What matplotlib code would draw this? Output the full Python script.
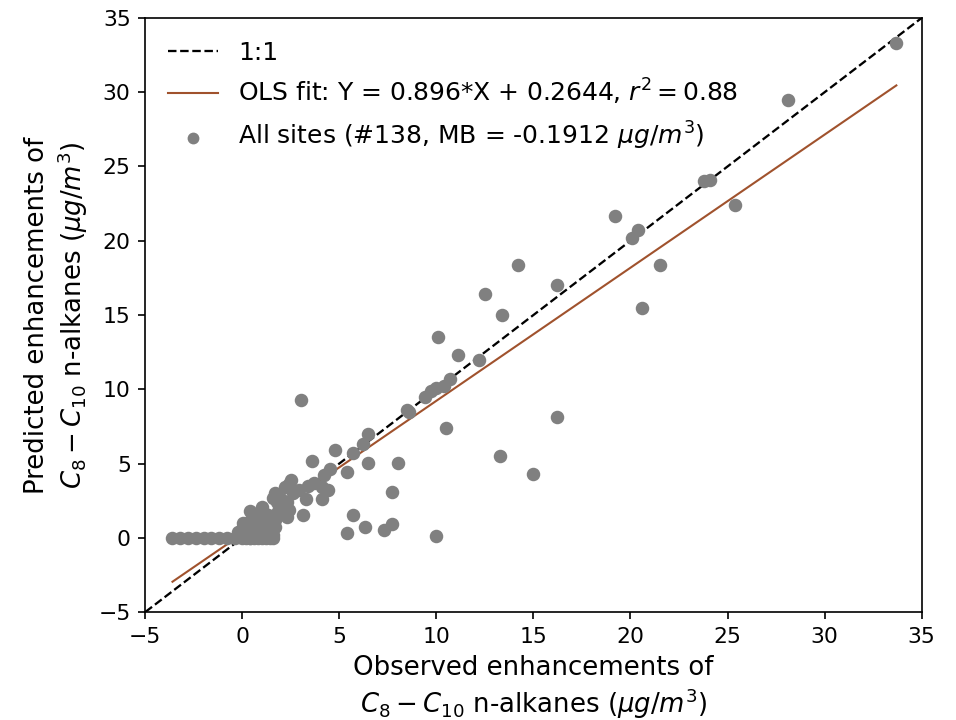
import numpy as np
import matplotlib
matplotlib.use("Agg")
import matplotlib.pyplot as plt


# observed (x) vs predicted (y) C8-C10 n-alkane enhancements, ug/m3
obs_high = [33.7, 28.1, 25.4, 23.8, 24.1, 19.2, 20.1, 20.4, 21.5, 20.6,
            16.2, 16.2, 15.0, 14.2, 12.5, 13.4, 13.3, 11.1, 12.2, 10.1,
            10.5, 10.0, 10.7, 8.5, 9.4, 9.7, 10.0, 10.4, 8.6, 8.0]
pred_high = [33.3, 29.5, 22.4, 24.0, 24.1, 21.7, 20.2, 20.7, 18.4, 15.5,
             17.0, 8.1, 4.3, 18.4, 16.4, 15.0, 5.5, 12.3, 12.0, 13.5,
             7.4, 0.1, 10.7, 8.6, 9.5, 9.9, 10.1, 10.2, 8.5, 5.05]

obs_mid = [3.0, 6.5, 6.2, 4.8, 5.7, 6.5, 3.6, 4.5, 5.4, 4.2,
           3.7, 3.4, 4.1, 4.4, 7.7, 3.3, 4.1, 3.1, 5.7, 6.3,
           5.4, 7.3, 7.7, 2.5, 2.4, 2.2, 1.7, 1.6, 2.3, 2.4,
           2.3, 1.8, 0.4, 1.0, 1.1, 1.7, 0.05, 0.4, 0.8, 1.3,
           1.6, -0.2, 0.2, 1.0, 1.45, 0.5, 1.0, 1.4, 2.0]
pred_mid = [9.3, 7.0, 6.3, 5.9, 5.7, 5.05, 5.2, 4.6, 4.45, 4.2,
            3.7, 3.5, 3.4, 3.2, 3.1, 2.6, 2.6, 1.5, 1.5, 0.7,
            0.3, 0.5, 0.9, 3.9, 3.6, 3.4, 3.0, 2.7, 2.4, 1.9,
            1.4, 1.7, 1.8, 2.1, 1.7, 0.7, 1.0, 1.1, 0.9, 0.75,
            0.7, 0.4, 0.6, 0.3, 0.3, 0.5, 1.3, 1.2, 2.6]

obs_zero = [-3.6, -3.2, -2.8, -2.4, -2.0, -1.6, -1.2, -0.8, -0.4,
            0.0, 0.2, 0.4, 0.6, 0.8, 1.0, 1.2, 1.4, 1.6]
pred_zero = [0.0] * len(obs_zero)

obs_cluster = [0.2, 0.6, 0.9, 1.2, 1.5, 0.3, 0.7, 1.1, 1.3, 0.6,
               0.9, 1.5, 1.9, 2.0, -0.1, 0.0, 1.2, 1.6, 0.4, 0.8,
               2.1, 1.8, 2.6, 2.9, 0.5, 1.0, 1.4, 0.1, 0.7, 1.3,
               1.7, 0.3, 1.1, 0.9, 1.5, 0.6, 1.2, 0.8, 1.0, 1.4,
               0.2]
pred_cluster = [0.1, 0.2, 0.15, 0.4, 0.5, 0.3, 0.6, 1.0, 1.5, 1.4,
                1.6, 1.1, 2.0, 1.6, 0.2, 0.6, 0.1, 0.2, 0.0, 0.4,
                2.2, 2.4, 3.0, 3.2, 0.9, 0.6, 0.8, 0.3, 1.0, 1.0,
                1.2, 0.8, 0.5, 1.2, 0.15, 0.7, 1.3, 0.2, 0.9, 0.4,
                0.5]

obs = np.array(obs_high + obs_mid + obs_zero + obs_cluster)
pred = np.array(pred_high + pred_mid + pred_zero + pred_cluster)

slope = 0.896
intercept = 0.2644
r2 = 0.88
n_sites = 138
mb = -0.1912

fig = plt.figure(figsize=(956 / 150, 720 / 150), dpi=150)
ax = fig.add_axes([0.152, 0.15, 0.812, 0.825])

ax.plot([-5, 35], [-5, 35], 'k--', lw=1.1, label='1:1')
xfit = np.array([obs.min(), obs.max()])
ax.plot(xfit, slope * xfit + intercept, color='#a0522d', lw=1.0,
        label=f'OLS fit: Y = {slope}*X + {intercept}, $r^2 = {r2}$')
ax.scatter(obs, pred, s=30, color='gray', zorder=3,
           label=f'All sites (#{n_sites}, MB = {mb} $\\mu g/m^3$)')

ax.set_xlim(-5, 35)
ax.set_ylim(-5, 35)
ax.tick_params(labelsize=10.5)
ax.set_xlabel('Observed enhancements of\n$C_8 - C_{10}$ n-alkanes ($\\mu g/m^3$)', fontsize=12.5)
ax.set_ylabel('Predicted enhancements of\n$C_8 - C_{10}$ n-alkanes ($\\mu g/m^3$)', fontsize=12.5)
ax.legend(loc='upper left', frameon=False, fontsize=12, markerscale=0.85)

fig.savefig('out.png', dpi=150)
